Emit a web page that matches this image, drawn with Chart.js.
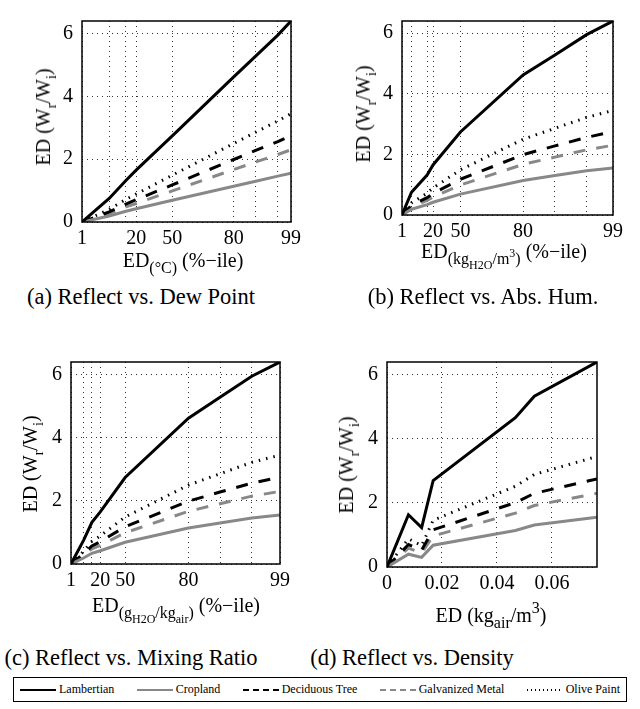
<!DOCTYPE html>
<html>
<head>
<meta charset="utf-8">
<script src="https://cdn.jsdelivr.net/npm/chart.js@4.4.0/dist/chart.umd.min.js"></script>
<style>
  body { margin: 0; background: #fff; font-family: "Liberation Serif", "Times New Roman", serif; }
  #page { position: relative; width: 640px; height: 709px; overflow: hidden; }
  canvas { position: absolute; }
  .lbl { position: absolute; white-space: nowrap; font-size: 20px; line-height: 1; color: #000; }
  .ytitle { transform: translate(-50%, -50%) rotate(-90deg); }
  .xtitle { transform: translateX(-50%); }
  .cap { position: absolute; white-space: nowrap; font-size: 22.5px; line-height: 1; transform: translateX(-50%); }
  sub { font-size: 80%; vertical-align: -0.4em; line-height: 0; }
  sup { font-size: 80%; vertical-align: 0.55em; line-height: 0; }
  sub sub, sub sup { font-size: 75%; }
  .ytitle sub { font-size: 72%; }
  #legend { position: absolute; left: 13px; top: 677px; width: 614px; height: 25px; border: 1px solid #000;
            display: flex; align-items: center; justify-content: space-between; padding: 0 6px; box-sizing: border-box;
            font-size: 12px; }
  #legend .item { display: flex; align-items: center; white-space: nowrap; }
  #legend svg { margin-right: 3px; }
</style>
</head>
<body>
<div id="page">
  <canvas id="chartA" width="320" height="280" style="left:0;top:0"></canvas>
  <canvas id="chartB" width="320" height="280" style="left:320px;top:0"></canvas>
  <canvas id="chartC" width="320" height="280" style="left:0;top:340px"></canvas>
  <canvas id="chartD" width="320" height="280" style="left:320px;top:340px"></canvas>

  <div class="lbl ytitle" style="left:43px;top:117px">ED (W<sub>r</sub>/W<sub>i</sub>)</div>
  <div class="lbl ytitle" style="left:363px;top:114px">ED (W<sub>r</sub>/W<sub>i</sub>)</div>
  <div class="lbl ytitle" style="left:30px;top:464px">ED (W<sub>r</sub>/W<sub>i</sub>)</div>
  <div class="lbl ytitle" style="left:346px;top:465px">ED (W<sub>r</sub>/W<sub>i</sub>)</div>

  <div class="lbl xtitle" style="left:183px;top:250px">ED<sub>(°C)</sub> (%−ile)</div>
  <div class="lbl xtitle" style="left:504px;top:241px">ED<sub>(kg<sub>H2O</sub>/m<sup>3</sup>)</sub> (%−ile)</div>
  <div class="lbl xtitle" style="left:176px;top:595px">ED<sub>(g<sub>H2O</sub>/kg<sub>air</sub>)</sub> (%−ile)</div>
  <div class="lbl xtitle" style="left:491px;top:605px">ED (kg<sub>air</sub>/m<sup>3</sup>)</div>

  <div class="cap" style="left:141px;top:286px">(a) Reflect vs. Dew Point</div>
  <div class="cap" style="left:483px;top:286px">(b) Reflect vs. Abs. Hum.</div>
  <div class="cap" style="left:131px;top:647px">(c) Reflect vs. Mixing Ratio</div>
  <div class="cap" style="left:412px;top:647px">(d) Reflect vs. Density</div>

  <div id="legend"></div>
</div>
<script>
// percentile ticks shared by panels a-c
const pctTicks = [1, 5, 10, 20, 50, 80, 90, 95, 99];
const pctLabels = ['1', '', '', '20', '50', '80', '', '', '99'];

// where each percentile sits on the x axis (fraction of axis range)
const xDewPoint = [0, 0.130, 0.210, 0.259, 0.432, 0.726, 0.831, 0.937, 1];
const xAbsHum = [0, 0.045, 0.119, 0.147, 0.277, 0.574, 0.725, 0.875, 1];
const xMixRatio = [0, 0.060, 0.100, 0.140, 0.259, 0.562, 0.713, 0.865, 1];

// reflectance ED at those percentiles
const lambertian = [0, 0.75, 1.32, 1.65, 2.74, 4.62, 5.28, 5.95, 6.40];
const cropland = [0, 0.19, 0.34, 0.42, 0.69, 1.14, 1.30, 1.46, 1.55];
const deciduous = [0, 0.32, 0.57, 0.71, 1.18, 1.99, 2.28, 2.56, 2.75];
const galvanized = [0, 0.27, 0.48, 0.59, 0.99, 1.67, 1.91, 2.15, 2.30];
const olivePaint = [0, 0.40, 0.72, 0.89, 1.49, 2.50, 2.86, 3.22, 3.45];

// panel d: density ED (kg_air/m^3)
const xDensity = [0, 0.0078, 0.0126, 0.0168, 0.0467, 0.0536, 0.0764];
const lambertianD = [0, 1.63, 1.23, 2.70, 4.66, 5.33, 6.40];
const croplandD = [0, 0.40, 0.30, 0.68, 1.14, 1.31, 1.55];
const deciduousD = [0, 0.70, 0.53, 1.16, 2.01, 2.30, 2.75];
const galvanizedD = [0, 0.59, 0.44, 0.97, 1.68, 1.92, 2.30];
const olivePaintD = [0, 0.88, 0.67, 1.46, 2.52, 2.89, 3.45];
const densityTicks = [0, 0.02, 0.04, 0.06];
const densityLabels = ['0', '0.02', '0.04', '0.06'];

const yTicks = [0, 2, 4, 6];

const seriesNames = ['Lambertian', 'Cropland', 'Deciduous Tree', 'Galvanized Metal', 'Olive Paint'];
const seriesColors = ['#000000', '#888888', '#000000', '#888888', '#000000'];
const seriesDash = [[], [], [12, 11], [12, 11], [1.5, 6]];

const FONT = '"Liberation Serif", "Times New Roman", serif';

// box around the plot area, matlab style
const boxPlugin = {
    id: 'box',
    afterDraw(chart) {
        const { ctx, chartArea: a } = chart;
        ctx.save();
        ctx.strokeStyle = '#000';
        ctx.lineWidth = 1.5;
        ctx.setLineDash([]);
        ctx.strokeRect(a.left, a.top, a.right - a.left, a.bottom - a.top);
        ctx.restore();
    }
};

function makePanel(canvasId, xs, ys, xTicks, xLabels, xMax, pad, yWidth) {
    const ctx = document.getElementById(canvasId).getContext('2d');
    const datasets = ys.map((vals, i) => ({
        label: seriesNames[i],
        data: xs.map((x, j) => ({ x: x, y: vals[j] })),
        borderColor: seriesColors[i],
        borderWidth: 3,
        borderDash: seriesDash[i],
        borderCapStyle: 'butt',
        pointRadius: 0,
        fill: false,
        tension: 0
    }));
    return new Chart(ctx, {
        type: 'line',
        data: { datasets },
        options: {
            responsive: false,
            animation: false,
            devicePixelRatio: 1,
            layout: { padding: pad },
            plugins: { legend: { display: false }, tooltip: { enabled: false } },
            scales: {
                x: {
                    type: 'linear',
                    min: 0,
                    max: xMax,
                    afterBuildTicks: s => { s.ticks = xTicks.map(v => ({ value: v })); },
                    afterFit: s => { s.height = 40; },
                    ticks: {
                        autoSkip: false, maxRotation: 0, padding: 5, color: '#000',
                        font: { family: FONT, size: 20 },
                        callback: (v, i) => xLabels[i]
                    },
                    grid: { color: '#333', lineWidth: 1, drawTicks: false },
                    border: { display: false, dash: [1, 4] }
                },
                y: {
                    min: 0,
                    max: 6.4,
                    afterBuildTicks: s => { s.ticks = yTicks.map(v => ({ value: v })); },
                    afterFit: s => { s.width = yWidth; },
                    ticks: {
                        padding: 9, color: '#000',
                        font: { family: FONT, size: 20 },
                        callback: v => String(v)
                    },
                    grid: { color: '#333', lineWidth: 1, drawTicks: false },
                    border: { display: false, dash: [1, 4] }
                }
            }
        },
        plugins: [boxPlugin]
    });
}

const allSeries = [lambertian, cropland, deciduous, galvanized, olivePaint];
const densitySeries = [lambertianD, croplandD, deciduousD, galvanizedD, olivePaintD];

// positions of the percentile ticks on each axis
makePanel('chartA', xDewPoint, allSeries, xDewPoint, pctLabels, 1, { left: 0, right: 29, top: 12, bottom: 18 }, 82);
makePanel('chartB', xAbsHum, allSeries, xAbsHum, pctLabels, 1, { left: 0, right: 27, top: 12, bottom: 25 }, 82);
makePanel('chartC', xMixRatio, allSeries, xMixRatio, pctLabels, 1, { left: 0, right: 40, top: 22, bottom: 16 }, 71);
makePanel('chartD', xDensity, densitySeries, densityTicks, densityLabels, 0.0764, { left: 0, right: 43, top: 22, bottom: 13 }, 67);

// legend
const legend = document.getElementById('legend');
seriesNames.forEach((name, i) => {
    const item = document.createElement('span');
    item.className = 'item';
    const dash = seriesDash[i].length ? (i === 4 ? '1,3' : '6,4') : 'none';
    item.innerHTML = '<svg width="36" height="6"><line x1="0" y1="3" x2="36" y2="3" stroke="' + seriesColors[i] +
        '" stroke-width="2" stroke-dasharray="' + dash + '"/></svg>' + name;
    legend.appendChild(item);
});
</script>
</body>
</html>
